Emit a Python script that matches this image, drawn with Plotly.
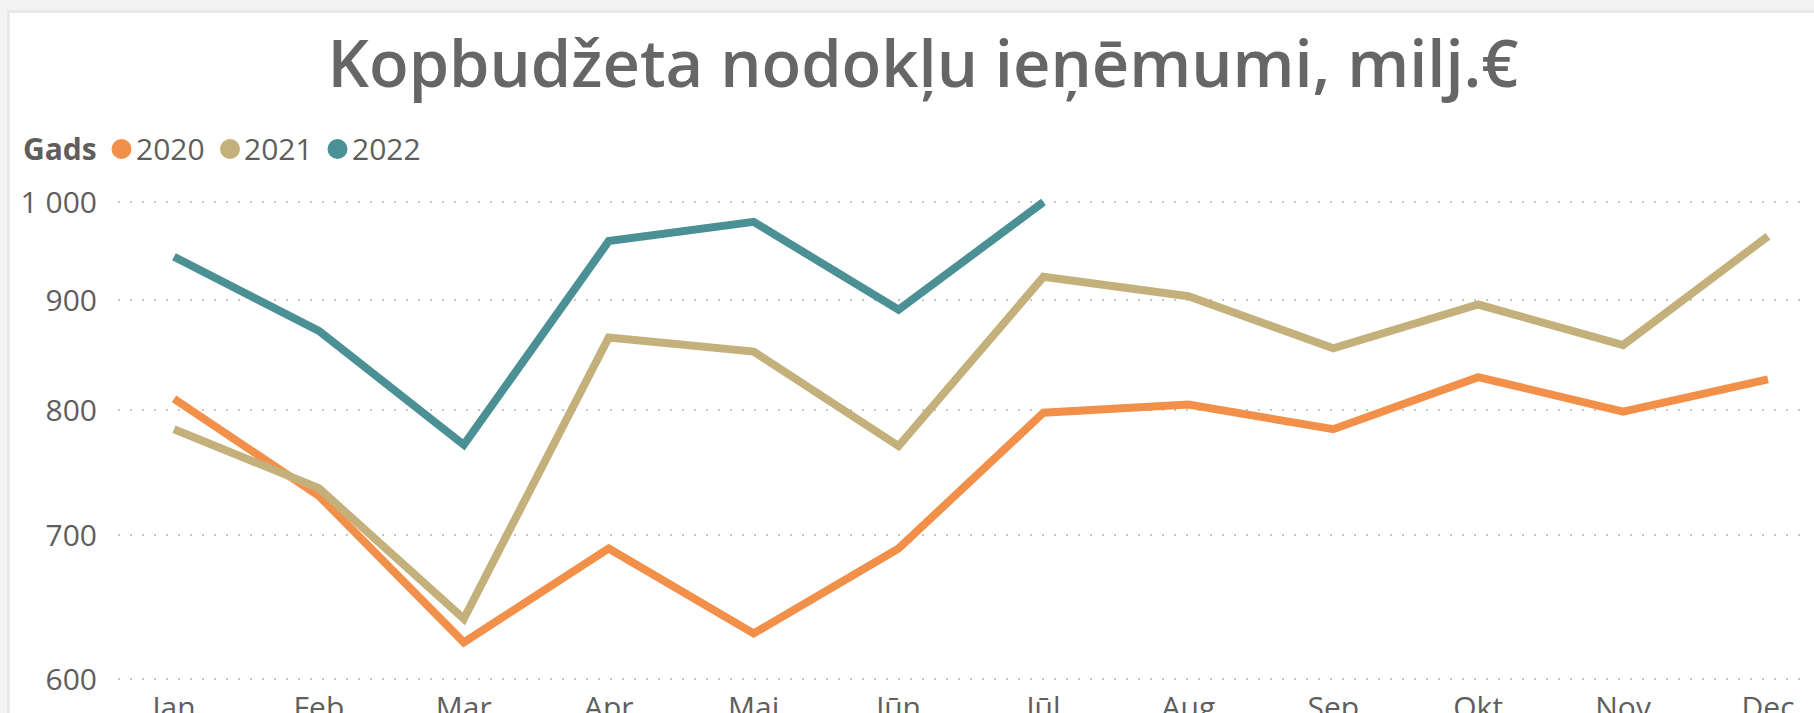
import math
import plotly.graph_objects as go

months = ["Jan", "Feb", "Mar", "Apr", "Mai", "Jūn", "Jūl", "Aug", "Sep", "Okt", "Nov", "Dec"]
years = ["2020", "2021", "2022"]
v2020 = [810, 730, 624, 690, 630, 690, 798, 805, 784, 829, 799, 827]
v2021 = [784, 736, 640, 865, 852, 770, 923, 904, 855, 896, 858, 964]
v2022 = [943, 871, 771, 959, 979, 891, 1000]
colors = ["#F2904A", "#C4B07B", "#4A9094"]
ytick_vals = [600, 700, 800, 900, 1000]
ytick_text = ["600", "700", "800", "900", "1 000"]

W, H = 1814, 713
ML, MR, MT, MB = 118, 9, 196, 26
PW, PH = W - ML - MR, H - MT - MB
PPD = 2150.0
x_step = 144.9
x_first = 174.0
x_last = 1768.0

def px(xp):
    return (xp - ML) / PW

def py(yp):
    return (H - MB - yp) / PH

FONT = "Segoe UI, Open Sans, sans-serif"
TXT = "#605E5C"

fig = go.Figure()
series = [v2020, v2021, v2022]
for name, vals, col in zip(years, series, colors):
    fig.add_trace(go.Scatter(
        x=months[:len(vals)], y=vals, mode="lines", name=name,
        line=dict(color=col, width=8), showlegend=False, hoverinfo="skip"))

y_top = 3 + (202 - MT) / PPD
y_bot = math.log10(600) - (H - MB - 679) / PPD
x_lo = -(x_first - ML) / x_step
x_hi = 11 + (W - MR - x_last) / x_step

shapes = [
    dict(type="rect", xref="paper", yref="paper", layer="below",
         x0=px(7), x1=px(W + 20), y0=py(H + 20), y1=py(10),
         fillcolor="#e9e9e9", line=dict(width=0)),
    dict(type="rect", xref="paper", yref="paper", layer="below",
         x0=px(10), x1=px(W + 20), y0=py(H + 20), y1=py(13),
         fillcolor="#ffffff", line=dict(width=0)),
]

# legend drawn manually (Power BI style)
legend_y = 149
annotations = [dict(text="<b>Gads</b>", xref="paper", yref="paper", x=px(21), y=py(legend_y),
                    xanchor="left", yanchor="middle", showarrow=False,
                    font=dict(family=FONT, size=30, color=TXT))]
marker_cx = [121.5, 230, 337.5]
R = 10
for name, col, cx in zip(years, colors, marker_cx):
    shapes.append(dict(type="circle", xref="paper", yref="paper",
                       x0=px(cx - R), x1=px(cx + R), y0=py(legend_y + R), y1=py(legend_y - R),
                       fillcolor=col, line=dict(width=0)))
    annotations.append(dict(text=name, xref="paper", yref="paper", x=px(cx + 12), y=py(legend_y),
                            xanchor="left", yanchor="middle", showarrow=False,
                            font=dict(family=FONT, size=30, color=TXT)))

fig.update_layout(
    width=W, height=H,
    margin=dict(l=ML, r=MR, t=MT, b=MB, pad=0),
    paper_bgcolor="#f3f3f3", plot_bgcolor="#ffffff",
    font=dict(family=FONT, color=TXT, size=30),
    title=dict(text="Kopbudžeta nodokļu ieņēmumi, milj.€",
               x=923 / W, xanchor="center", y=1 - 64 / H, yanchor="middle",
               font=dict(family=FONT, size=65, color="#666666", weight=600)),
    showlegend=False,
    shapes=shapes,
    annotations=annotations,
    xaxis=dict(type="category", categoryorder="array", categoryarray=months,
               range=[x_lo, x_hi], showgrid=False, zeroline=False, showline=False,
               ticks="", automargin=False, tickfont=dict(family=FONT, size=30, color=TXT)),
    yaxis=dict(type="log", range=[y_bot, y_top], tickvals=ytick_vals, ticktext=ytick_text,
               showgrid=True, gridcolor="#c6c6c6", gridwidth=2, griddash="2px,10px",
               zeroline=False, showline=False, ticks="", ticklabelstandoff=20, automargin=False,
               tickfont=dict(family=FONT, size=30, color=TXT)),
)

fig.write_html("out.html", config=dict(displayModeBar=False),
               post_script="document.body.style.margin='0';document.body.style.background='#f3f3f3';")
